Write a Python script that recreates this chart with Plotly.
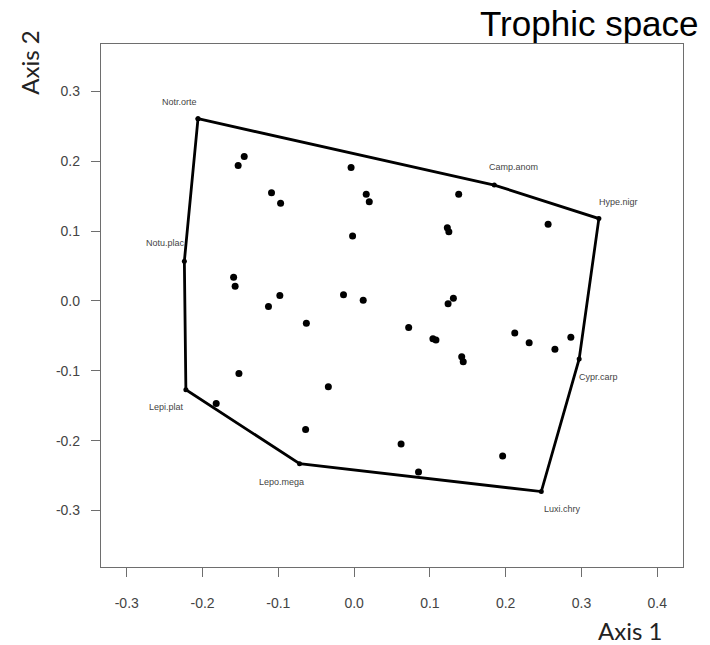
import plotly.graph_objects as go

# Species scores on the first two ordination axes (points inside the hull)
inner_x = [-0.145, -0.153, -0.004, -0.109, -0.097, 0.016, 0.020, -0.002,
           -0.159, -0.157, -0.098, -0.113, -0.014, 0.012, -0.063, -0.152,
           -0.034, -0.182, -0.064, 0.062, 0.085, 0.196, 0.138, 0.123,
           0.125, 0.256, 0.131, 0.124, 0.072, 0.104, 0.108, 0.142,
           0.144, 0.212, 0.231, 0.265, 0.286]
inner_y = [0.207, 0.194, 0.191, 0.155, 0.140, 0.153, 0.142, 0.093,
           0.034, 0.021, 0.008, -0.008, 0.009, 0.001, -0.032, -0.104,
           -0.123, -0.147, -0.184, -0.205, -0.245, -0.222, 0.153, 0.105,
           0.099, 0.110, 0.004, -0.004, -0.038, -0.054, -0.056, -0.080,
           -0.087, -0.046, -0.060, -0.069, -0.052]

# Convex hull vertices (in drawing order) with species codes
hull_names = ["Notr.orte", "Camp.anom", "Hype.nigr", "Cypr.carp",
              "Luxi.chry", "Lepo.mega", "Lepi.plat", "Notu.plac"]
hull_x = [-0.206, 0.185, 0.323, 0.297, 0.247, -0.072, -0.222, -0.224]
hull_y = [0.261, 0.166, 0.118, -0.083, -0.273, -0.233, -0.127, 0.057]

x_ticks = [-0.3, -0.2, -0.1, 0.0, 0.1, 0.2, 0.3, 0.4]
y_ticks = [-0.3, -0.2, -0.1, 0.0, 0.1, 0.2, 0.3]

# label placement around each hull vertex (pixel offsets)
label_offsets = {"Notr.orte": (-19, 17), "Camp.anom": (19, 18), "Hype.nigr": (20, 17),
                 "Cypr.carp": (19, -18), "Luxi.chry": (21, -17), "Lepo.mega": (-18, -18),
                 "Lepi.plat": (-19, -17), "Notu.plac": (-19, 18)}

fig = go.Figure()

fig.add_trace(go.Scatter(
    x=hull_x + hull_x[:1], y=hull_y + hull_y[:1], mode="lines+markers",
    line=dict(color="black", width=2.8), marker=dict(color="black", size=5),
    hoverinfo="skip", showlegend=False))

fig.add_trace(go.Scatter(
    x=inner_x, y=inner_y, mode="markers",
    marker=dict(color="black", size=7), showlegend=False))

for name, hx, hy in zip(hull_names, hull_x, hull_y):
    dx, dy = label_offsets[name]
    fig.add_annotation(x=hx, y=hy, text=name, showarrow=False,
                       xshift=dx, yshift=dy,
                       font=dict(family="Liberation Sans, Arial", size=9, color="#444444"))

axis_style = dict(showgrid=False, zeroline=False, showline=True, mirror=True,
                  linecolor="#6e6e6e", linewidth=1.3, ticks="outside", ticklen=9,
                  tickcolor="#6e6e6e", tickwidth=1.3,
                  tickfont=dict(family="Liberation Sans, Arial", size=14, color="#444444"))

fig.update_xaxes(range=[-0.334, 0.434], tickvals=x_ticks,
                 ticktext=[f"{v:.1f}" for v in x_ticks], ticklabelstandoff=14, **axis_style)
fig.update_yaxes(range=[-0.381, 0.368], tickvals=y_ticks,
                 ticktext=[f"{v:.1f}" for v in y_ticks], ticklabelstandoff=8, **axis_style)

fig.add_annotation(xref="paper", yref="paper", x=1.031, y=1.04, xanchor="right",
                   yanchor="middle", text="Trophic space", showarrow=False,
                   font=dict(family="Liberation Sans, Arial", size=35, color="black"))
fig.add_annotation(xref="paper", yref="paper", x=0.909, y=-0.121, xanchor="center",
                   yanchor="middle", text="Axis 1", showarrow=False,
                   font=dict(family="Lato", size=24, color="#222222"))
fig.add_annotation(xref="paper", yref="paper", x=-0.122, y=0.964, xanchor="center",
                   yanchor="middle", text="Axis 2", showarrow=False, textangle=-90,
                   font=dict(family="Lato", size=24, color="#222222"))

fig.update_layout(width=710, height=645, paper_bgcolor="white", plot_bgcolor="white",
                  margin=dict(l=101, r=27, t=44, b=78), showlegend=False)

fig.write_html("out.html")
